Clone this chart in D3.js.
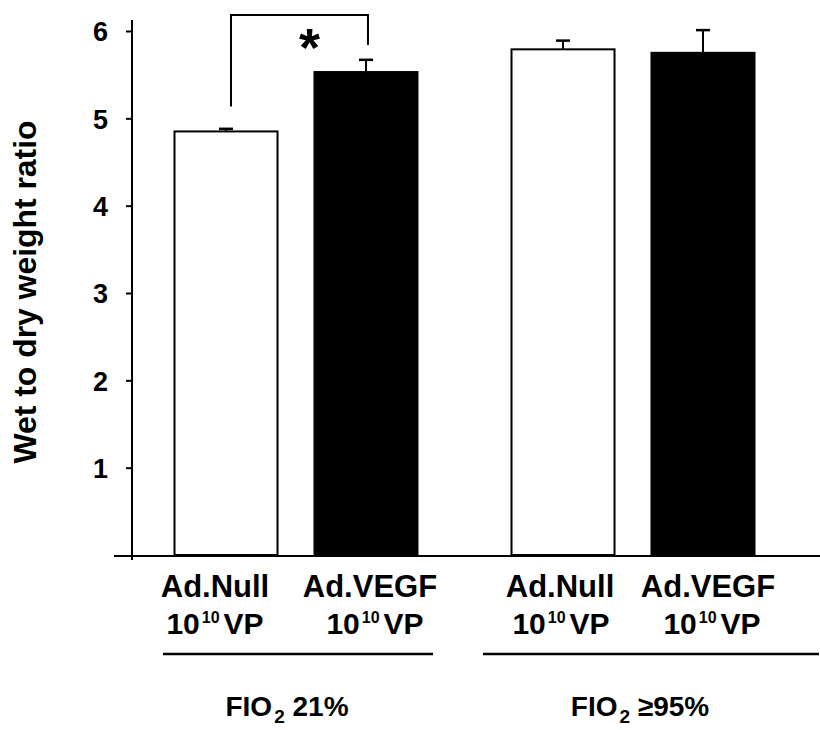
<!DOCTYPE html>
<html><head><meta charset="utf-8">
<script src="https://cdn.jsdelivr.net/npm/d3@7"></script>
<style>body{margin:0;background:#fff}svg{display:block}text{font-family:"Liberation Sans",Arial,sans-serif;font-weight:bold;fill:#000}</style>
</head><body>
<svg id="c" width="820" height="730"></svg>
<script>
const groups = ["FIO2 21%", "FIO2 ≥95%"];
const groupMain = ["FIO", "FIO"];
const groupSub = ["2", "2"];
const groupRest = [" 21%", " ≥95%"];
const treatments = ["Ad.Null", "Ad.VEGF"];
const doseLabels = ["10", "10"];
const doseExp = ["10", "10"];
const doseUnit = ["VP", "VP"];
const values = [[4.85, 5.53], [5.79, 5.75]];
const errors = [[0.03, 0.14], [0.10, 0.26]];
const fills = ["#fff", "#000"];
const yTicks = [1, 2, 3, 4, 5, 6];
const yLabel = "Wet to dry weight ratio";
const sigText = "*";

const svg = d3.select("#c");
const y = d3.scaleLinear().domain([0, 6]).range([555, 31]);
const gx = d3.scaleBand().domain(groups).range([174.5, 754.5]).paddingInner(0.279).paddingOuter(0);
const ix = d3.scaleBand().domain(treatments).range([0, gx.bandwidth()]).paddingInner(0.264).paddingOuter(0);
const barW = ix.bandwidth();
const cx = (g, t) => gx(groups[g]) + ix(treatments[t]) + ix.bandwidth() / 2;

// axes
const yAxis = d3.axisLeft(y).tickValues(yTicks).tickSize(6).tickFormat(d3.format("d"));
const ag = svg.append("g").attr("transform", "translate(132,0)").call(yAxis);
ag.select(".domain").remove();
ag.selectAll(".tick line").attr("stroke", "#000").attr("stroke-width", 2);
ag.selectAll(".tick text").attr("x", -24).attr("font-size", 27).attr("dy", "0.36em")
  .style("font-family", '"Liberation Sans",Arial,sans-serif').style("font-weight", "bold");
svg.append("line").attr("x1", 132).attr("x2", 132).attr("y1", 20).attr("y2", 560).attr("stroke", "#000").attr("stroke-width", 2);
svg.append("line").attr("x1", 114).attr("x2", 820).attr("y1", y(0) + 1).attr("y2", y(0) + 1).attr("stroke", "#000").attr("stroke-width", 2);

// bars
values.forEach((vals, g) => {
  vals.forEach((v, t) => {
    const c = cx(g, t);
    const e = errors[g][t];
    svg.append("line").attr("x1", c).attr("x2", c).attr("y1", y(v)).attr("y2", y(v + e)).attr("stroke", "#000").attr("stroke-width", 2);
    svg.append("line").attr("x1", c - 7).attr("x2", c + 7).attr("y1", y(v + e)).attr("y2", y(v + e)).attr("stroke", "#000").attr("stroke-width", 2.5);
    svg.append("rect").attr("x", c - barW / 2).attr("width", barW).attr("y", y(v)).attr("height", y(0) - y(v))
      .attr("fill", fills[t]).attr("stroke", "#000").attr("stroke-width", 2);
  });
});

// significance bracket
const bx1 = cx(0, 0) + 5, bx2 = cx(0, 1) + 2;
svg.append("path").attr("d", `M${bx1},${y(values[0][0]) - 25}V15H${bx2}V45`).attr("fill", "none").attr("stroke", "#000").attr("stroke-width", 2);
svg.append("text").attr("x", (bx1 + bx2) / 2 + 10).attr("y", 66).attr("text-anchor", "middle").attr("font-size", 54).text(sigText);

// x labels
const labOff1 = [[-11, 4], [-3, 5]];
const labOff2 = [[-11, 9], [-2, 9]];
values.forEach((vals, g) => {
  vals.forEach((v, t) => {
    svg.append("text").attr("x", cx(g, t) + labOff1[g][t]).attr("y", 597).attr("text-anchor", "middle").attr("font-size", 31).text(treatments[t]);
    const tx = svg.append("text").attr("x", cx(g, t) + labOff2[g][t]).attr("y", 634).attr("text-anchor", "middle").attr("font-size", 30);
    tx.append("tspan").text(doseLabels[t]);
    tx.append("tspan").attr("font-size", 16).attr("dy", -11).attr("dx", 2).text(doseExp[t]);
    tx.append("tspan").attr("dy", 11).attr("dx", 4).text(doseUnit[t]);
  });
});

// group lines & labels
const lineExt = [[163, 433], [483, 819]];
groups.forEach((gname, g) => {
  svg.append("line").attr("x1", lineExt[g][0]).attr("x2", lineExt[g][1]).attr("y1", 654).attr("y2", 654).attr("stroke", "#000").attr("stroke-width", 2.5);
  const gc = [287, 640][g];
  const tx = svg.append("text").attr("x", gc).attr("y", 716).attr("text-anchor", "middle").attr("font-size", 28);
  tx.append("tspan").text(groupMain[g]);
  tx.append("tspan").attr("font-size", 19).attr("dy", 7).attr("dx", 2).text(groupSub[g]);
  tx.append("tspan").attr("dy", -7).text(groupRest[g]);
});

// y label
svg.append("text").attr("transform", "translate(36,292) rotate(-90)").attr("text-anchor", "middle").attr("font-size", 31).attr("textLength", 343).attr("lengthAdjust", "spacingAndGlyphs").text(yLabel);
</script>
</body></html>
